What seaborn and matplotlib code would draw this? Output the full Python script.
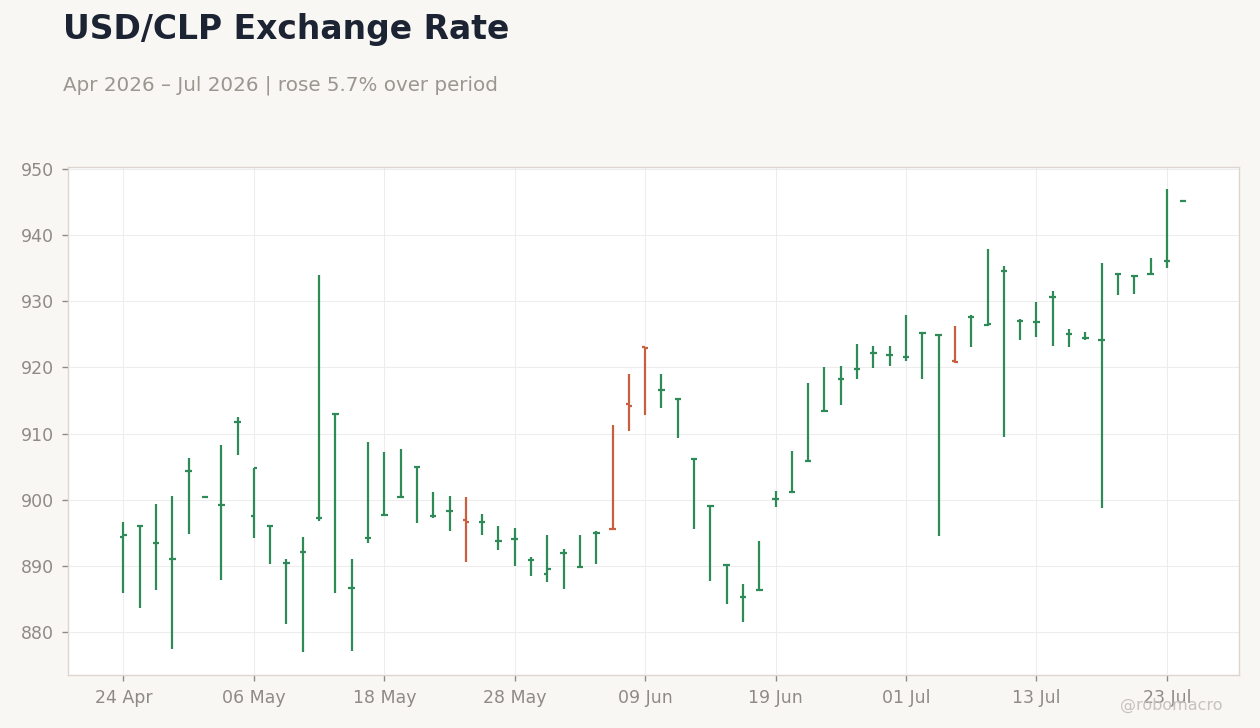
import numpy as np
import pandas as pd
import matplotlib
matplotlib.use("Agg")
import matplotlib.pyplot as plt
import seaborn as sns

# business days shown on the chart
dates = pd.bdate_range("2026-04-24", "2026-07-24")

opens = [894.4, 896.0, 893.4, 891.0, 904.4, 900.4, 899.2, 911.8, 897.5, 896.0,
         890.4, 892.1, 897.2, 913.0, 886.6, 894.2, 897.7, 900.4, 904.9, 897.6,
         898.3, 896.9, 896.6, 893.7, 894.0, 890.9, 888.7, 891.9, 889.8, 894.9,
         895.6, 914.4, 923.0, 916.5, 915.2, 906.1, 899.1, 890.1, 885.3, 886.3,
         900.1, 901.1, 905.8, 913.4, 918.2, 919.8, 922.1, 921.8, 921.6, 925.2,
         924.9, 921.0, 927.6, 926.4, 934.6, 927.0, 926.9, 930.6, 925.1, 924.5,
         924.2, 934.1, 933.8, 934.1, 936.0, 945.1]
highs = [896.6, 896.0, 899.3, 900.5, 906.3, 900.5, 908.2, 912.5, 904.8, 896.0,
         891.0, 894.4, 934.0, 913.0, 891.0, 908.7, 907.2, 907.6, 904.9, 901.1,
         900.5, 900.4, 897.8, 896.0, 895.7, 891.4, 894.6, 892.5, 894.7, 895.3,
         911.3, 919.0, 923.0, 919.0, 915.2, 906.1, 899.1, 890.3, 887.3, 893.7,
         901.3, 907.3, 917.6, 920.1, 920.2, 923.6, 923.2, 923.2, 927.9, 925.2,
         925.0, 926.3, 927.9, 937.9, 935.3, 927.3, 929.9, 931.6, 925.8, 925.4,
         935.8, 934.1, 933.8, 936.6, 947.0, 945.1]
lows = [885.9, 883.6, 886.3, 877.5, 894.8, 900.3, 887.8, 906.8, 894.2, 890.3,
        881.2, 877.0, 896.7, 885.9, 877.1, 893.4, 897.7, 900.4, 896.5, 897.3,
        895.3, 890.6, 894.6, 892.4, 889.9, 888.5, 887.5, 886.5, 889.8, 890.3,
        895.4, 910.4, 912.8, 913.9, 909.3, 895.5, 887.7, 884.2, 881.5, 886.3,
        898.9, 901.1, 905.8, 913.4, 914.3, 918.2, 919.9, 920.2, 921.0, 918.2,
        894.5, 920.7, 923.1, 926.3, 909.5, 924.2, 924.6, 923.3, 923.0, 924.1,
        898.7, 931.0, 931.1, 934.1, 935.0, 945.1]
closes = [894.6, 896.0, 893.4, 891.0, 904.4, 900.4, 899.2, 911.8, 904.8, 896.0,
          890.4, 892.1, 897.2, 913.0, 886.6, 894.2, 897.7, 900.4, 904.9, 897.6,
          898.3, 896.6, 896.6, 893.7, 894.0, 890.9, 889.5, 891.9, 889.8, 894.9,
          895.5, 914.1, 922.9, 916.5, 915.2, 906.1, 899.1, 890.1, 885.3, 886.3,
          900.1, 901.1, 905.8, 913.4, 918.2, 919.8, 922.1, 921.8, 921.6, 925.2,
          924.9, 920.8, 927.6, 926.5, 934.6, 927.0, 926.9, 930.6, 925.1, 924.5,
          924.2, 934.1, 933.8, 934.1, 936.0, 945.1]

UP = "#2e8b57"
DOWN = "#c8603f"
BG = "#f9f7f4"

df = pd.DataFrame({"date": dates, "open": opens, "high": highs,
                   "low": lows, "close": closes})
df["pos"] = np.arange(len(df))
df["color"] = np.where(df["close"] < df["open"], DOWN, UP)

sns.set_theme(style="whitegrid")
plt.rcParams["font.family"] = ["DejaVu Sans"]

fig = plt.figure(figsize=(12.6, 7.28), dpi=100, facecolor=BG)
ax = fig.add_axes([0.054, 0.0728, 0.929, 0.698])
ax.set_facecolor("white")

w = 0.2
ax.vlines(df["pos"], df["low"], df["high"], colors=df["color"], lw=1.6, zorder=3)
ax.hlines(df["open"], df["pos"] - w, df["pos"], colors=df["color"], lw=1.6, zorder=3)
ax.hlines(df["close"], df["pos"], df["pos"] + w, colors=df["color"], lw=1.6, zorder=3)

ax.set_xlim(-3.4, 68.4)
ax.set_ylim(873.5, 950.3)
ax.set_yticks(np.arange(880, 951, 10))
tick_pos = df["pos"][::8]
ax.set_xticks(tick_pos)
ax.set_xticklabels([d.strftime("%d %b") for d in df["date"][::8]])

ax.grid(True, color="#ededed", lw=0.8)
for s in ax.spines.values():
    s.set_color("#ddd6d0")
    s.set_linewidth(1.0)
ax.tick_params(axis="both", colors="#8f8a85", labelsize=12.5, length=4,
               width=1, direction="out", bottom=True, left=True, pad=6)
ax.set_xlabel("")
ax.set_ylabel("")

fig.text(0.05, 0.959, "USD/CLP Exchange Rate", fontsize=23.8, fontweight="bold",
         color="#1c2333", va="center", ha="left")
fig.text(0.05, 0.883, "Apr 2026 – Jul 2026 | rose 5.7% over period",
         fontsize=14.3, color="#9a9690", va="center", ha="left")
fig.text(0.97, 0.031, "@robomacro", fontsize=11.5, color="#c6c2bd",
         va="center", ha="right")

fig.savefig("out.png", dpi=100, facecolor=BG)
